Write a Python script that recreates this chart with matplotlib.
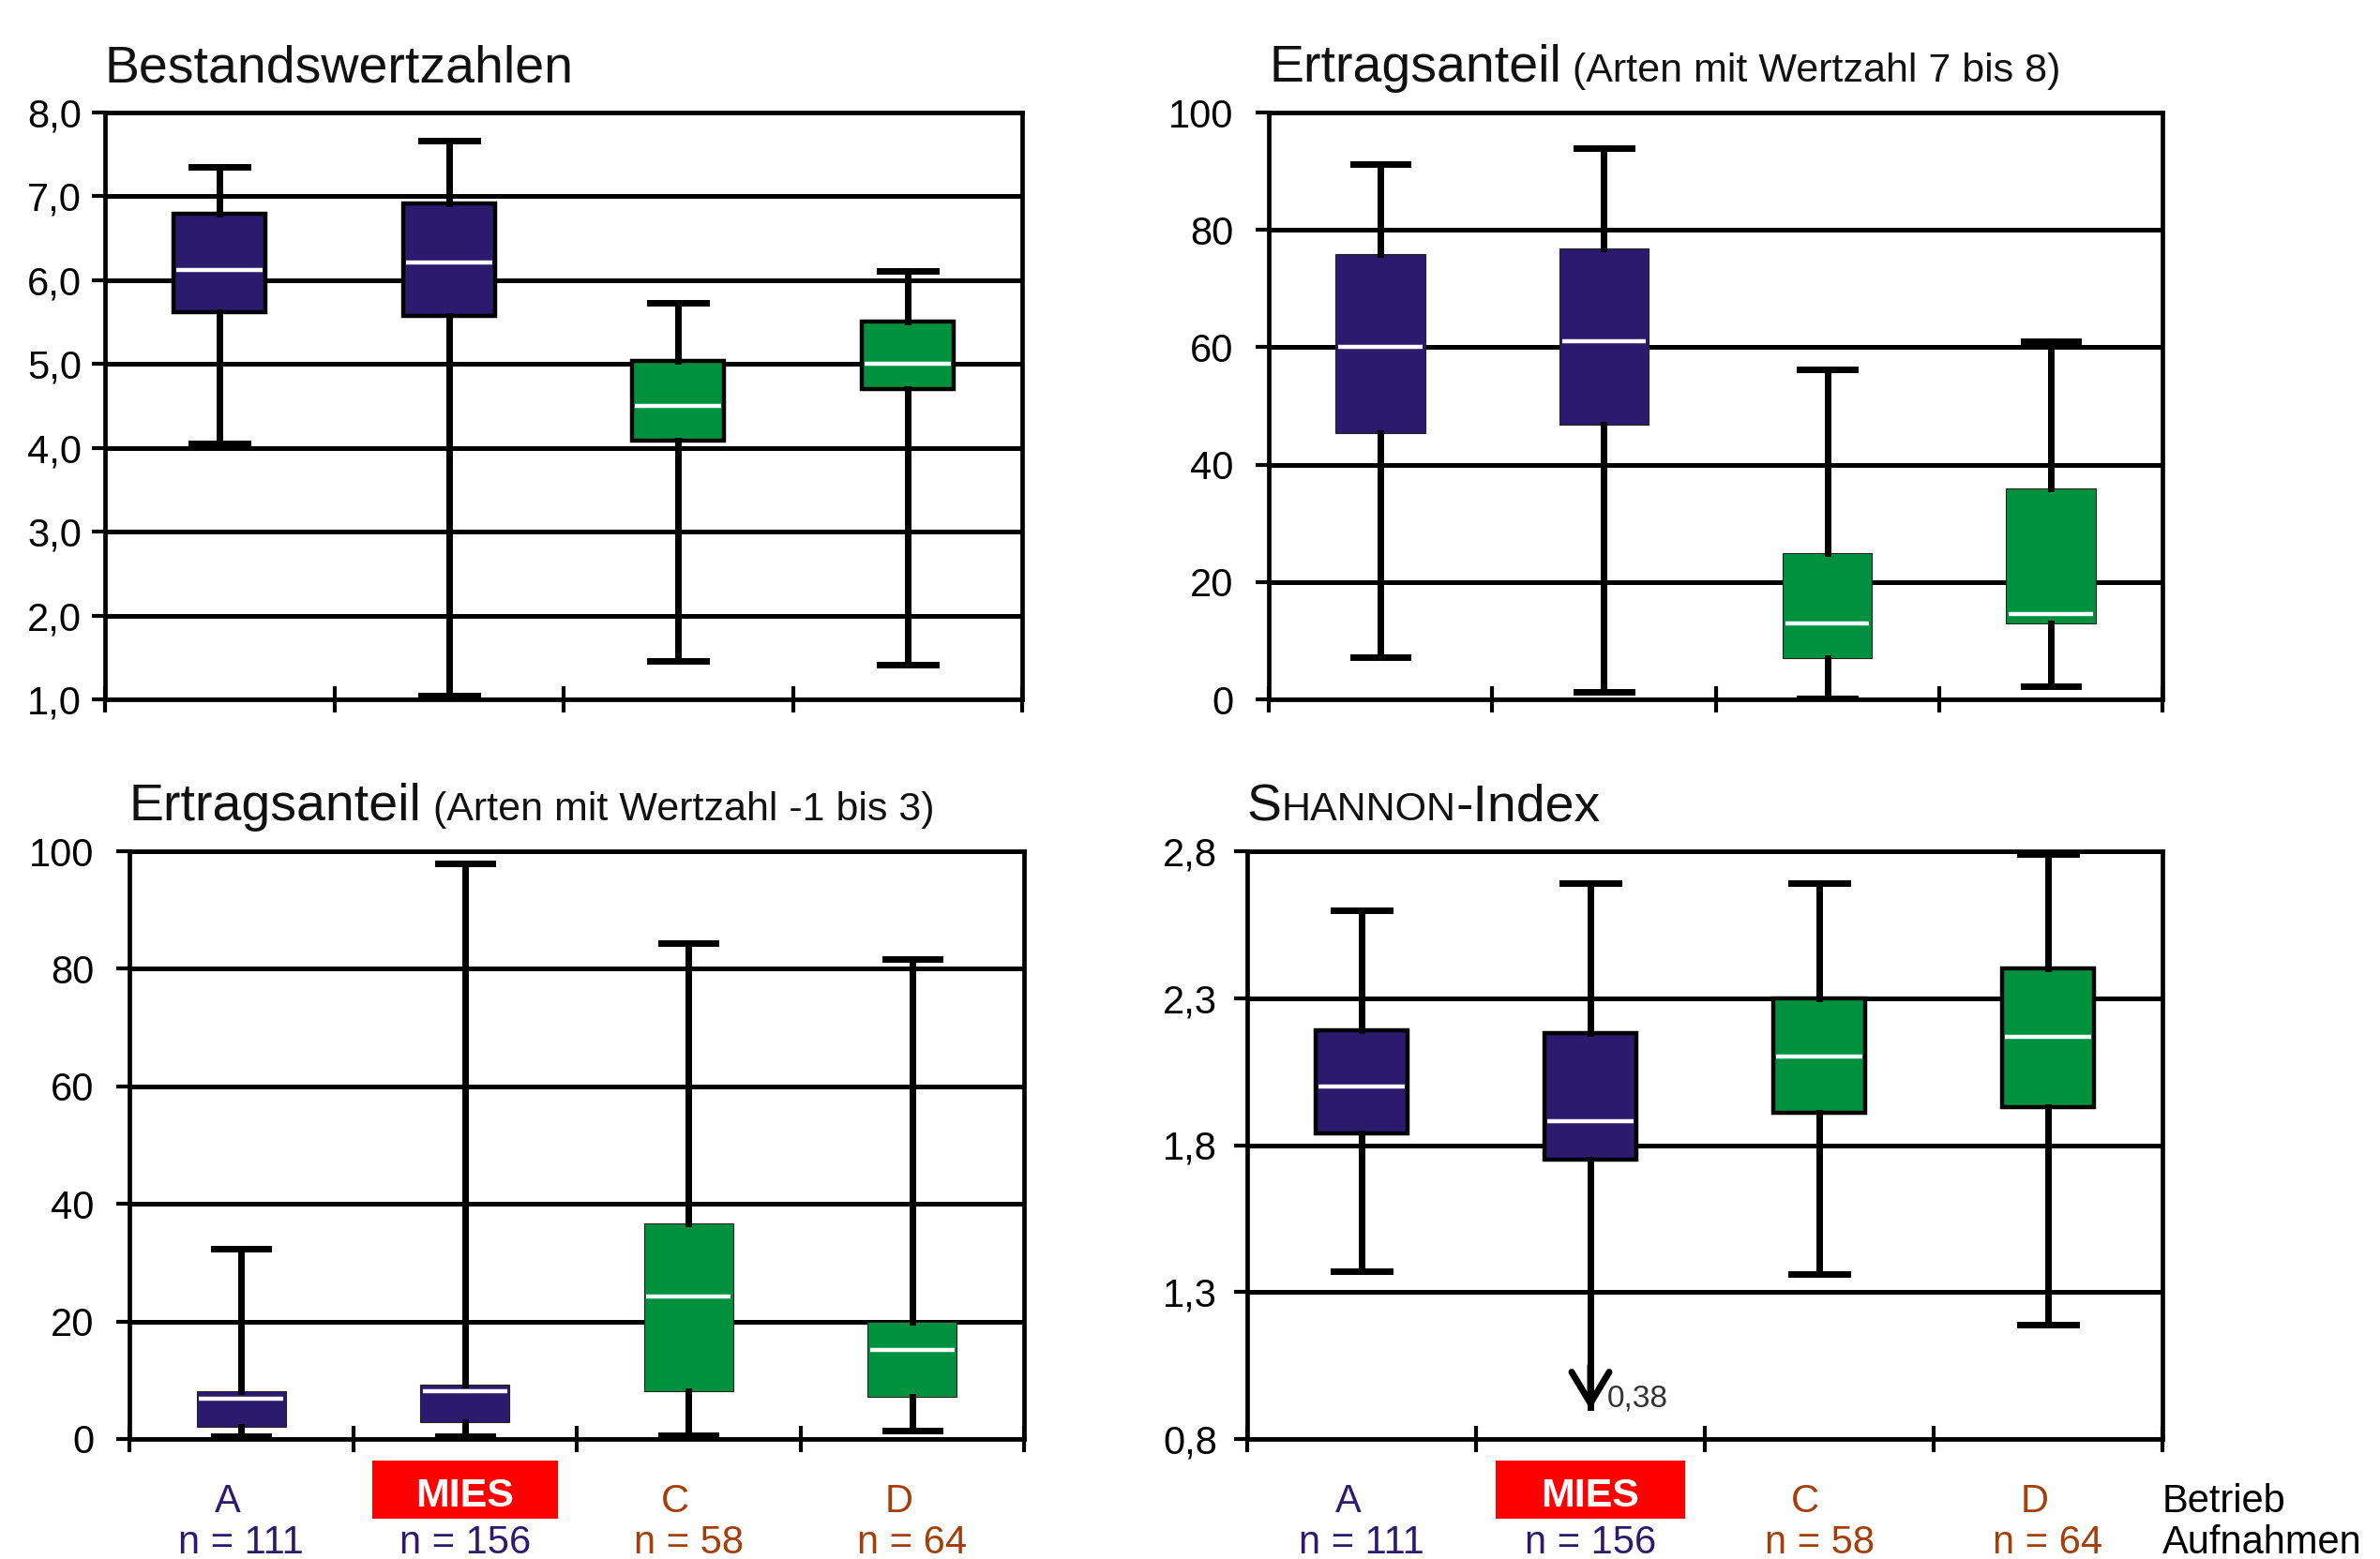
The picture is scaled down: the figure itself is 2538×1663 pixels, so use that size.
import matplotlib.pyplot as plt
import matplotlib.transforms as mtransforms
from matplotlib.patches import Rectangle
from matplotlib.ticker import FuncFormatter

plt.rcParams['font.family'] = ['Liberation Sans', 'DejaVu Sans']

# --- data ---
betriebe = ['A', 'MIES', 'C', 'D']
n_aufnahmen = [111, 156, 58, 64]

# per Betrieb: [whisker low, Q1, median, Q3, whisker high]
bestandswertzahlen = [
    [4.05, 5.62, 6.12, 6.79, 7.35],
    [1.05, 5.57, 6.21, 6.92, 7.67],
    [1.46, 4.09, 4.50, 5.04, 5.73],
    [1.41, 4.70, 5.00, 5.51, 6.11],
]
ertrag_7_8 = [
    [7.2, 45.4, 60.0, 75.9, 91.2],
    [1.3, 46.8, 61.1, 76.9, 94.0],
    [0.2, 7.0, 13.0, 25.0, 56.3],
    [2.3, 13.0, 14.6, 36.0, 61.1],
]
ertrag_m1_3 = [
    [0.4, 2.0, 6.9, 8.2, 32.4],
    [0.4, 2.9, 8.1, 9.3, 98.0],
    [0.6, 8.2, 24.2, 36.7, 84.4],
    [1.5, 7.2, 15.2, 20.0, 81.6],
]
shannon = [
    [1.37, 1.84, 2.00, 2.19, 2.60],
    [0.38, 1.75, 1.88, 2.18, 2.69],
    [1.36, 1.91, 2.10, 2.30, 2.69],
    [1.19, 1.93, 2.17, 2.40, 2.79],
]

ticks_bestand = [1, 2, 3, 4, 5, 6, 7, 8]
ticks_ertrag = [0, 20, 40, 60, 80, 100]
ticks_shannon = [0.8, 1.3, 1.8, 2.3, 2.8]

# --- style ---
NAVY = '#2B1A6E'
GREEN = '#00913F'
BROWN = '#A33F0B'
TXT = '#111111'
box_colors = [NAVY, NAVY, GREEN, GREEN]
label_colors = [NAVY, NAVY, BROWN, BROWN]

W, H = 2538, 1663
fig = plt.figure(figsize=(W / 100, H / 100), dpi=100)
renderer = fig.canvas.get_renderer()


def rect(left, right, top, bottom):
    return [left / W, 1 - bottom / H, (right - left) / W, (bottom - top) / H]


def comma(decimals):
    return FuncFormatter(lambda v, p: f"{v:.{decimals}f}".replace('.', ','))


def panel(ax, values, ticks, decimals, edge_lw, label_pad):
    stats = [dict(whislo=v[0], q1=v[1], med=v[2], q3=v[3], whishi=v[4])
             for v in values]
    ymin, ymax = ticks[0], ticks[-1]
    res = ax.bxp(stats, positions=[1, 2, 3, 4], widths=0.4, capwidths=0.245,
                 patch_artist=True, showfliers=False,
                 whiskerprops=dict(color='black', lw=5),
                 capprops=dict(color='black', lw=5),
                 medianprops=dict(color='white', lw=3.2),
                 boxprops=dict(lw=edge_lw))
    for patch, c in zip(res['boxes'], box_colors):
        patch.set_facecolor(c)
        patch.set_edgecolor('black' if edge_lw > 1.5 else '#222222')
    # medians stop at the inner edge of the box
    for med in res['medians']:
        x0, x1 = med.get_xdata()[:2]
        med.set_xdata([x0 + 0.012, x1 - 0.012])
    # whiskers that run below the axis: arrow + value
    for i, s in enumerate(stats):
        if s['whislo'] < ymin:
            tip = ymin + 0.05 * (ymax - ymin)
            res['caps'][2 * i].set_visible(False)
            res['whiskers'][2 * i].set_ydata([s['q1'], tip + 0.01])
            ax.annotate('', xy=(i + 1, tip), xytext=(i + 1, tip + 0.15),
                        arrowprops=dict(arrowstyle='->,head_length=0.6,head_width=0.36',
                                        mutation_scale=40, lw=5, color='black',
                                        shrinkA=0, shrinkB=0))
            ax.annotate(f"{s['whislo']:.2f}".replace('.', ','), xy=(i + 1, tip),
                        xytext=(13, 2), textcoords='offset points',
                        fontsize=24, color='#333333', va='baseline', ha='left')

    ax.set_xlim(0.5, 4.5)
    ax.set_ylim(ymin, ymax)
    ax.set_yticks(ticks)
    ax.yaxis.set_major_formatter(comma(decimals))
    ax.set_xticks([0.5, 1.5, 2.5, 3.5, 4.5])
    ax.set_xticklabels([])
    ax.tick_params(axis='y', direction='out', length=10, width=3, labelsize=30,
                   pad=label_pad)
    ax.tick_params(axis='x', direction='inout', length=20, width=3)
    ax.set_axisbelow(True)
    ax.grid(axis='y', color='black', lw=3.6)
    for sp in ax.spines.values():
        sp.set_linewidth(3.4)
        sp.set_color('black')


def title(ax, parts, y=1.052):
    """parts: list of (text, fontsize), written one after another on one baseline"""
    x = 0.0
    for s, size in parts:
        t = ax.text(x, y, s, transform=ax.transAxes, fontsize=size,
                    ha='left', va='baseline', color=TXT)
        bb = t.get_window_extent(renderer)
        x = ax.transAxes.inverted().transform((bb.x1, 0))[0]


def betrieb_labels(ax, legend=False):
    trans = mtransforms.blended_transform_factory(ax.transData, ax.transAxes)
    for i, (b, n, c) in enumerate(zip(betriebe, n_aufnahmen, label_colors)):
        x = i + 1
        if b == 'MIES':
            ax.add_patch(Rectangle((x - 0.415, -0.1356), 0.83, 0.099, transform=trans,
                                   facecolor='#FF0000', edgecolor='none', clip_on=False))
            ax.text(x, -0.115, b, transform=trans, fontsize=31, fontweight='bold',
                    color='white', ha='center', va='baseline')
        else:
            ax.text(x - 0.06, -0.124, b, transform=trans, fontsize=30, color=c,
                    ha='center', va='baseline')
        ax.text(x, -0.194, f"n = {n}", transform=trans, fontsize=30, color=c,
                ha='center', va='baseline')
    if legend:
        ax.text(1.0, -0.124, 'Betrieb', transform=ax.transAxes, fontsize=30,
                ha='left', va='baseline', color='black')
        ax.text(1.0, -0.194, 'Aufnahmen', transform=ax.transAxes, fontsize=30,
                ha='left', va='baseline', color='black')


ax_tl = fig.add_axes(rect(112, 1090, 120, 746))
ax_tr = fig.add_axes(rect(1353, 2306, 120, 746))
ax_bl = fig.add_axes(rect(138, 1092, 908, 1535))
ax_br = fig.add_axes(rect(1330, 2306, 908, 1535))

panel(ax_tl, bestandswertzahlen, ticks_bestand, 1, 3.2, 8)
panel(ax_tr, ertrag_7_8, ticks_ertrag, 0, 0.8, 17)
panel(ax_bl, ertrag_m1_3, ticks_ertrag, 0, 0.8, 17)
panel(ax_br, shannon, ticks_shannon, 1, 3.2, 13)

title(ax_tl, [('Bestandswertzahlen', 40)])
title(ax_tr, [('Ertragsanteil', 40), (' (Arten mit Wertzahl 7 bis 8)', 31)])
title(ax_bl, [('Ertragsanteil', 40), (' (Arten mit Wertzahl -1 bis 3)', 31)])
# SHANNON in small caps
title(ax_br, [('S', 40), ('HANNON', 31), ('-Index', 40)])

betrieb_labels(ax_bl)
betrieb_labels(ax_br, legend=True)

fig.savefig('out.png', dpi=100)
